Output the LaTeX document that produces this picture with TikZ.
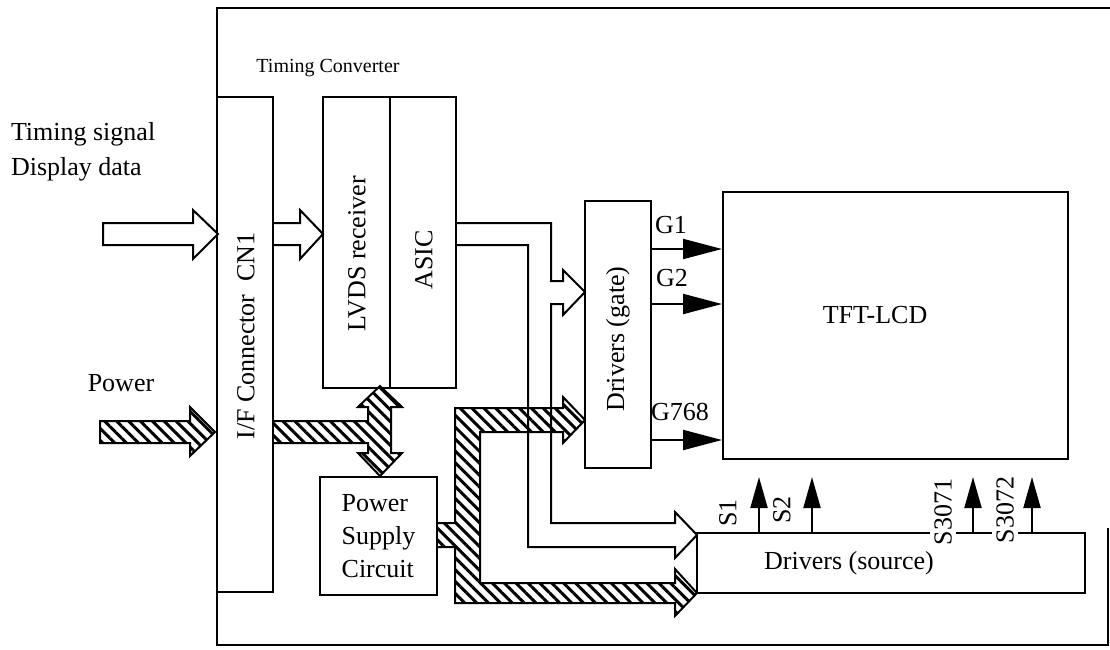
\documentclass[tikz,border=0pt]{standalone}
\usepackage{fontspec}
\setmainfont{Liberation Serif}
\usepackage{tikz}
\usetikzlibrary{arrows.meta, patterns.meta, fit}

\tikzset{
  box/.style={draw, inner sep=0pt},
  lbl/.style={font=\fontsize{13}{16.5}\selectfont, inner sep=1pt},
  vlbl/.style={lbl, rotate=90},
  hatch/.style={draw, pattern={Lines[angle=-45, distance=4.2pt, line width=1.5pt]}},
  garrow/.style={-{Triangle[length=19.5pt, width=10pt]}},
  sarrow/.style={-{Triangle[length=15.5pt, width=8.5pt]}},
}

\begin{document}
\begin{tikzpicture}[x=0.5pt, y=-0.5pt, line width=1pt, line join=miter]
\useasboundingbox (0,0) rectangle (1110,649);
% --- Frame ---
\draw[line width=1.3pt] (1110,8) -- (217,8) -- (217,645) -- (1108,645) -- (1108,528);

% --- Power paths (hatched) ---
\draw[hatch] (100,421) -- (190,421) -- (190,407) -- (215,432) -- (190,456) -- (190,443) -- (100,443) -- cycle;
\draw[hatch] (273,421) -- (368,421) -- (368,407) -- (358,407) -- (380,386) -- (402,407) -- (391,407)
  -- (391,453) -- (402,453) -- (380,476) -- (358,453) -- (368,453) -- (368,443) -- (273,443);
\draw[hatch] (437,523) -- (455,523) -- (455,408) -- (563,408) -- (563,397) -- (585,420) -- (563,443)
  -- (563,432) -- (480,432) -- (480,583) -- (675,583) -- (675,569) -- (697,593) -- (675,616)
  -- (675,603) -- (455,603) -- (455,547) -- (437,547);

% --- Boxes ---
\node[box, fit={(217,97) (273,592)}] (cn1) {};
\node[box, fit={(323,97) (390,388)}] (lvds) {};
\node[box, fit={(390,97) (456,388)}] (asic) {};
\node[box, fit={(320,477) (437,595)}] (psc) {};
\node[box, fit={(585,201) (651,468)}] (gate) {};
\node[box, fit={(723,192) (1068,459)}] (lcd) {};
\node[box, fit={(697,533) (1085,593)}] (src) {};

% --- Signal paths (hollow) ---
\draw (103,223) -- (193,223) -- (193,210) -- (218,234) -- (193,259) -- (193,245) -- (103,245) -- cycle;
\draw (273,223) -- (300,223) -- (300,210) -- (323,234) -- (300,259) -- (300,245) -- (273,245);
\draw (456,223) -- (551,223) -- (551,281) -- (563,281) -- (563,270) -- (585,292) -- (563,315)
  -- (563,304) -- (551,304) -- (551,523) -- (675,523) -- (675,512) -- (697,535) -- (675,558)
  -- (675,547) -- (528,547) -- (528,245) -- (456,245);

% --- Labels ---
\node[lbl, font=\fontsize{13}{17.5}\selectfont, align=left, anchor=west] (tsig) at (8,152) {Timing signal\\Display data};
\node[lbl] (pwr) at (121,383) {Power};
\node[font=\fontsize{10}{12}\selectfont] (tconv) at (328,68) {Timing Converter};
\node[vlbl] (cn1txt) at (246,336) {I/F Connector\ \ CN1};
\node[vlbl] (lvdstxt) at (357,254) {LVDS receiver};
\node[vlbl] (asictxt) at (424,260) {ASIC};
\node[lbl, align=left] (psctxt) at (psc) {Power\\Supply\\Circuit};
\node[vlbl] (gatetxt) at (618,339) {Drivers (gate)};
\node[lbl] (lcdtxt) at (875,315) {TFT-LCD};
\node[lbl] (srctxt) at (849,563) {Drivers (source)};

% --- Gate lines ---
\draw[garrow] (gate.east |- 0,249) -- (lcd.west |- 0,249);
\draw[garrow] (gate.east |- 0,304) -- (lcd.west |- 0,304);
\draw[garrow] (gate.east |- 0,440) -- (lcd.west |- 0,440);
\node[lbl] (g1) at (671,225) {G1};
\node[lbl] (g2) at (672,278) {G2};
\node[lbl] (g768) at (680,412) {G768};

% --- Source lines ---
\draw[sarrow] (src.north -| 759,0) -- (759,477);
\draw[sarrow] (src.north -| 812,0) -- (812,477);
\draw[sarrow] (src.north -| 973,0) -- (973,477);
\draw[sarrow] (src.north -| 1032,0) -- (1032,477);
\node[vlbl] (s1) at (728,513) {S1};
\node[vlbl] (s2) at (782,510) {S2};
\node[vlbl, fill=white, inner sep=2pt] (s3071) at (943,512) {S3071};
\node[vlbl, fill=white, inner sep=2pt] (s3072) at (1005,510) {S3072};
\end{tikzpicture}
\end{document}
